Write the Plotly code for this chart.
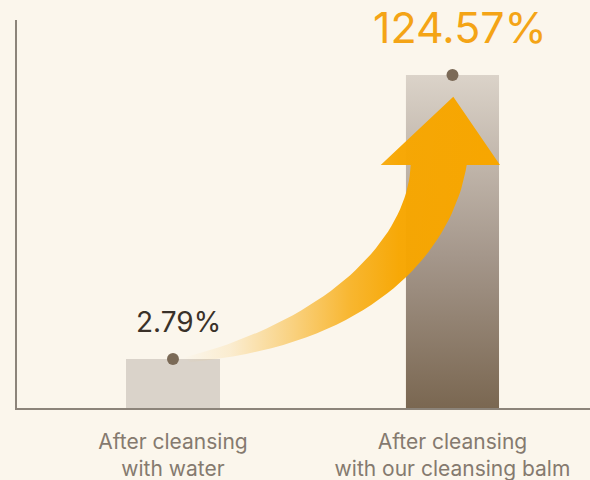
import numpy as np
import plotly.graph_objects as go

# ---- data ----
categories = ["After cleansing<br>with water", "After cleansing<br>with our cleansing balm"]
values = [2.79, 124.57]
value_labels = ["2.79%", "124.57%"]

# ---- style ----
BG = "#fbf6ec"
AXIS = "#8c847a"
BAR1 = "#dad3ca"
DOT = "#7b6a57"
ORANGE = "#f4a416"
BAR_W = 0.333
Y_RANGE = [0.161, 2.415]          # log10 range of the value axis
X_RANGE = [-0.558, 1.492]

fig = go.Figure()

# bars
fig.add_trace(go.Bar(x=[0, 1], y=values, width=BAR_W,
                     marker=dict(color=[BAR1, "#a5978a"], line=dict(width=0)),
                     hoverinfo="skip", showlegend=False))

# gradient overlay for the second bar (built from its value and width)
ymin = 10 ** Y_RANGE[0]
bx0, bx1 = 1 - BAR_W / 2, 1 + BAR_W / 2
fig.add_trace(go.Scatter(
    x=[bx0, bx1, bx1, bx0, bx0], y=[ymin, ymin, values[1], values[1], ymin],
    mode="lines", line=dict(width=0), fill="toself",
    fillgradient=dict(type="vertical",
                      colorscale=[[0, "#7a6751"], [0.45, "#a4968a"], [1, "#dbd3c9"]]),
    hoverinfo="skip", showlegend=False))

# dots at bar tops
fig.add_trace(go.Scatter(x=[0, 1], y=values, mode="markers",
                         marker=dict(size=12, color=DOT),
                         hoverinfo="skip", showlegend=False, cliponaxis=False))

# ---- decorative curved arrow (pixel-space overlay) ----
def bez(p0, p1, p2, p3, n=40):
    t = np.linspace(0, 1, n)[:, None]
    p0, p1, p2, p3 = map(np.array, (p0, p1, p2, p3))
    return ((1 - t) ** 3) * p0 + 3 * ((1 - t) ** 2) * t * p1 + 3 * (1 - t) * t ** 2 * p2 + t ** 3 * p3

upper = bez((183, 358), (335, 318), (408, 235), (410.7, 165))
lower = bez((466.7, 165), (455, 240), (385, 345), (190, 362))
head = np.array([(380.7, 165), (453.3, 96.7), (500, 165)])
pts = np.vstack([upper, head, lower, [(183, 358)]])
fig.add_trace(go.Scatter(
    x=pts[:, 0], y=pts[:, 1], xaxis="x2", yaxis="y2",
    mode="lines", line=dict(width=0), fill="toself",
    fillgradient=dict(type="horizontal", colorscale=[
        [0, "rgba(247,166,0,0)"], [0.15, "rgba(247,166,0,0.12)"],
        [0.34, "rgba(247,166,0,0.45)"], [0.53, "rgba(247,166,0,0.8)"],
        [0.68, "rgba(247,166,0,0.97)"], [1, "rgba(247,166,0,1)"]]),
    hoverinfo="skip", showlegend=False))

# value labels
fig.add_annotation(x=0, y=np.log10(values[0]), text=value_labels[0], showarrow=False,
                   xshift=6, yshift=37, font=dict(family="Inter", size=28, color="#3a3129"))
fig.add_annotation(x=1, y=np.log10(values[1]), text=value_labels[1], showarrow=False,
                   xshift=8, yshift=48, font=dict(family="Inter", size=43, color=ORANGE))

fig.update_layout(
    width=590, height=480,
    margin=dict(l=17, r=0, t=20, b=72),
    paper_bgcolor=BG, plot_bgcolor=BG,
    bargap=0,
    xaxis=dict(range=X_RANGE, tickvals=[0, 1], ticktext=categories, automargin=False,
               showgrid=False, zeroline=False, showline=True, linecolor=AXIS, linewidth=1.5,
               ticks="", tickfont=dict(family="Inter", size=21, color="#857a6f"),
               ticklabelstandoff=14),
    yaxis=dict(type="log", range=Y_RANGE, showgrid=False, zeroline=False, automargin=False,
               showline=True, linecolor=AXIS, linewidth=1.5, showticklabels=False, ticks=""),
    xaxis2=dict(overlaying="x", range=[17, 590], visible=False, anchor="y2"),
    yaxis2=dict(overlaying="y", range=[408, 20], visible=False, anchor="x2"),
)

fig.write_html(
    "out.html",
    config={"displayModeBar": False},
    post_script="document.body.style.margin='0';document.body.style.overflow='hidden';"
                "document.body.style.background='" + BG + "';",
)
